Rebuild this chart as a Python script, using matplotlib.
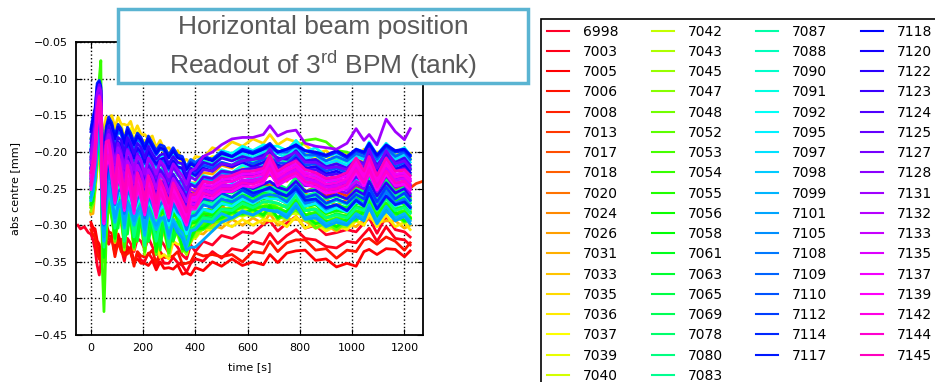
import numpy as np
import matplotlib.pyplot as plt
from matplotlib.patches import Rectangle

# time grid shared by all runs (s)
times_s = [0, 8, 16, 24, 32, 38, 44, 50,
           58, 68, 80, 92, 104, 116, 128, 140,
           152, 165, 178, 192, 206, 220, 235, 250,
           265, 280, 298, 315, 332, 350, 366, 382,
           400, 430, 465, 500, 540, 580, 620, 660,
           685, 715, 750, 785, 820, 860, 900, 940,
           980, 1015, 1045, 1065, 1095, 1130, 1165, 1200, 1222]

# run 6998 starts before t=0, run 7013 goes on after the others
lead_times_s = [-50, -40, -25, -10]
lead_6998_um = [-300, -305, -302, -310]
tail_times_s = [1245, 1270]
tail_7013_um = [-243, -240]

labels = ["6998", "7003", "7005", "7006", "7008", "7013", "7017", "7018", "7020",
          "7024", "7026", "7031", "7033", "7035", "7036", "7037", "7039", "7040",
          "7042", "7043", "7045", "7047", "7048", "7052", "7053", "7054", "7055",
          "7056", "7058", "7061", "7063", "7065", "7069", "7078", "7080", "7083",
          "7087", "7088", "7090", "7091", "7092", "7095", "7097", "7098", "7099",
          "7101", "7105", "7108", "7109", "7110", "7112", "7114", "7117", "7118",
          "7120", "7122", "7123", "7124", "7125", "7127", "7128", "7131", "7132",
          "7133", "7135", "7137", "7139", "7142", "7144", "7145"]

# abs centre in micrometres, one row per run (same order as labels)
centre_um = [
    [-312, -320, -333, -355, -368, -352, -338, -326, -318, -326, -315, -338, -320, -319, -344, -318,
     -325, -336, -318, -322, -333, -317, -329, -340, -319, -327, -338, -322, -330, -341, -346, -327,
     -336, -322, -327, -314, -318, -309, -311, -299, -294, -308, -297, -288, -304, -300, -313, -310,
     -306, -309, -297, -290, -311, -288, -306, -309, -316],
    [-300, -306, -309, -329, -337, -350, -334, -321, -302, -314, -316, -339, -317, -331, -349, -329,
     -338, -352, -338, -348, -349, -338, -346, -355, -341, -352, -352, -344, -351, -355, -364, -352,
     -346, -349, -336, -345, -332, -335, -322, -326, -311, -325, -314, -306, -318, -320, -329, -331,
     -322, -324, -312, -304, -322, -302, -318, -320, -327],
    [-296, -303, -305, -321, -326, -341, -328, -317, -298, -309, -311, -334, -312, -326, -337, -334,
     -330, -349, -346, -352, -352, -355, -348, -361, -350, -359, -358, -360, -354, -367, -365, -368,
     -358, -362, -350, -356, -346, -355, -350, -354, -340, -351, -338, -335, -334, -348, -346, -357,
     -352, -356, -336, -333, -340, -332, -333, -343, -335],
    [-306, -313, -317, -339, -346, -349, -328, -322, -306, -319, -318, -343, -322, -336, -342, -339,
     -334, -356, -336, -342, -343, -340, -334, -352, -336, -344, -344, -342, -336, -353, -352, -350,
     -338, -342, -340, -343, -340, -350, -336, -338, -322, -336, -324, -320, -320, -334, -332, -345,
     -334, -336, -320, -318, -326, -316, -322, -334, -324],
    [-282, -268, -249, -206, -178, -209, -296, -335, -279, -266, -268, -301, -281, -275, -310, -288,
     -279, -311, -292, -283, -321, -286, -296, -315, -297, -289, -326, -291, -303, -313, -330, -304,
     -302, -285, -289, -276, -279, -266, -272, -262, -262, -264, -270, -252, -272, -268, -280, -276,
     -280, -268, -272, -252, -274, -256, -272, -268, -278],
    [-250, -241, -224, -176, -159, -174, -276, -300, -262, -233, -254, -277, -260, -257, -292, -260,
     -266, -285, -271, -264, -296, -266, -276, -289, -279, -271, -300, -274, -285, -289, -306, -283,
     -282, -265, -271, -258, -262, -250, -256, -246, -244, -246, -252, -236, -254, -248, -260, -254,
     -260, -248, -252, -234, -256, -236, -252, -246, -249],
    [-227, -223, -192, -164, -134, -162, -246, -286, -226, -216, -218, -254, -224, -238, -252, -240,
     -232, -262, -236, -246, -256, -248, -242, -266, -242, -252, -260, -254, -248, -268, -270, -266,
     -248, -250, -236, -240, -228, -232, -222, -228, -210, -228, -218, -218, -220, -230, -226, -238,
     -228, -232, -220, -218, -224, -218, -220, -230, -224],
    [-273, -262, -244, -198, -182, -196, -310, -333, -290, -260, -280, -307, -285, -279, -323, -284,
     -291, -317, -297, -288, -329, -290, -303, -321, -303, -296, -333, -298, -309, -318, -335, -310,
     -310, -296, -299, -286, -290, -278, -284, -276, -276, -278, -284, -266, -288, -284, -296, -290,
     -294, -282, -286, -266, -290, -270, -286, -282, -292],
    [-243, -232, -214, -168, -152, -164, -266, -292, -250, -222, -240, -264, -246, -244, -274, -246,
     -254, -268, -256, -250, -276, -252, -262, -270, -262, -256, -280, -258, -268, -272, -292, -270,
     -270, -256, -258, -246, -250, -238, -244, -234, -232, -234, -240, -224, -242, -236, -248, -244,
     -250, -238, -242, -222, -246, -224, -244, -238, -248],
    [-261, -259, -226, -196, -164, -194, -281, -324, -264, -252, -254, -296, -260, -272, -296, -276,
     -266, -306, -272, -280, -302, -282, -276, -310, -276, -286, -304, -288, -282, -308, -308, -300,
     -284, -286, -272, -276, -262, -266, -256, -262, -246, -264, -254, -252, -256, -268, -264, -274,
     -264, -268, -256, -252, -258, -254, -256, -268, -262],
    [-213, -201, -186, -144, -130, -142, -240, -264, -218, -192, -210, -228, -216, -214, -242, -216,
     -224, -236, -228, -222, -246, -224, -234, -240, -236, -230, -250, -232, -242, -242, -262, -242,
     -242, -228, -230, -218, -222, -210, -216, -206, -206, -208, -214, -198, -214, -208, -220, -216,
     -222, -210, -214, -196, -218, -198, -214, -208, -218],
    [-285, -284, -252, -222, -192, -222, -314, -350, -292, -280, -284, -324, -288, -298, -322, -302,
     -292, -334, -298, -306, -328, -308, -302, -338, -302, -312, -330, -314, -308, -332, -330, -324,
     -310, -312, -300, -304, -292, -300, -290, -298, -284, -300, -292, -292, -294, -304, -300, -308,
     -298, -302, -292, -290, -296, -294, -294, -304, -300],
    [-225, -214, -198, -154, -140, -152, -250, -272, -228, -202, -220, -240, -226, -224, -252, -226,
     -234, -246, -238, -232, -256, -234, -244, -250, -244, -238, -260, -240, -250, -252, -272, -252,
     -252, -238, -240, -228, -232, -220, -226, -216, -216, -218, -224, -208, -226, -218, -232, -228,
     -234, -222, -226, -208, -230, -208, -226, -220, -230],
    [-181, -178, -156, -144, -124, -146, -168, -170, -152, -156, -150, -166, -152, -162, -162, -164,
     -158, -174, -164, -176, -176, -182, -178, -194, -184, -196, -194, -202, -198, -212, -210, -216,
     -206, -208, -194, -198, -186, -192, -182, -188, -176, -190, -182, -186, -190, -202, -198, -210,
     -202, -208, -196, -198, -200, -200, -198, -208, -202],
    [-271, -258, -243, -196, -182, -196, -305, -326, -285, -258, -276, -300, -280, -276, -314, -278,
     -286, -308, -292, -286, -322, -292, -310, -326, -344, -340, -346, -322, -326, -326, -340, -318,
     -318, -304, -308, -296, -302, -292, -300, -292, -294, -294, -302, -288, -304, -298, -308, -300,
     -306, -294, -300, -284, -302, -286, -302, -296, -306],
    [-198, -188, -174, -148, -140, -148, -190, -176, -166, -156, -164, -170, -166, -164, -178, -170,
     -168, -184, -172, -184, -184, -190, -186, -200, -190, -202, -200, -208, -204, -218, -218, -222,
     -214, -214, -206, -208, -202, -204, -198, -202, -192, -202, -198, -194, -202, -208, -206, -214,
     -208, -212, -204, -196, -208, -202, -204, -210, -208],
    [-256, -250, -222, -188, -160, -186, -280, -318, -262, -246, -254, -292, -260, -268, -292, -264,
     -270, -298, -276, -268, -306, -274, -286, -302, -288, -286, -314, -290, -302, -308, -322, -304,
     -302, -290, -292, -284, -286, -280, -284, -280, -278, -280, -286, -272, -288, -286, -294, -288,
     -294, -282, -286, -270, -288, -274, -286, -284, -292],
    [-275, -270, -242, -210, -181, -209, -303, -343, -286, -272, -276, -320, -282, -291, -315, -294,
     -288, -326, -292, -298, -320, -302, -298, -328, -298, -306, -322, -308, -304, -324, -326, -318,
     -304, -304, -290, -294, -282, -288, -282, -290, -276, -292, -284, -284, -286, -298, -292, -300,
     -290, -292, -282, -276, -286, -280, -282, -294, -288],
    [-270, -264, -236, -204, -172, -203, -300, -344, -284, -264, -272, -318, -278, -284, -326, -282,
     -288, -322, -292, -288, -334, -290, -298, -328, -298, -296, -336, -296, -306, -324, -336, -312,
     -308, -298, -296, -286, -284, -278, -280, -278, -276, -282, -284, -270, -288, -288, -298, -296,
     -296, -286, -286, -272, -288, -274, -284, -286, -292],
    [-262, -253, -233, -190, -170, -190, -298, -332, -280, -252, -273, -298, -284, -268, -308, -294,
     -276, -298, -314, -278, -298, -316, -286, -298, -326, -286, -304, -320, -294, -306, -328, -302,
     -300, -290, -288, -278, -276, -270, -272, -270, -266, -272, -274, -260, -278, -278, -288, -286,
     -286, -276, -276, -262, -278, -264, -276, -276, -282],
    [-281, -270, -250, -204, -188, -205, -316, -347, -297, -266, -288, -318, -292, -286, -334, -290,
     -296, -330, -302, -294, -340, -296, -308, -334, -308, -302, -342, -306, -314, -330, -340, -316,
     -316, -302, -304, -290, -292, -284, -288, -284, -284, -288, -292, -276, -294, -294, -304, -302,
     -302, -290, -292, -276, -294, -280, -292, -292, -298],
    [-257, -253, -222, -192, -160, -191, -288, -333, -271, -254, -260, -306, -264, -276, -308, -266,
     -276, -314, -282, -278, -314, -286, -282, -324, -282, -292, -316, -294, -288, -322, -320, -310,
     -298, -296, -286, -284, -274, -276, -270, -276, -264, -278, -272, -266, -276, -292, -288, -294,
     -284, -284, -274, -266, -280, -270, -274, -284, -280],
    [-251, -240, -222, -176, -160, -176, -288, -318, -270, -240, -260, -290, -262, -260, -302, -266,
     -266, -304, -276, -268, -314, -270, -284, -308, -282, -276, -316, -280, -288, -306, -320, -296,
     -296, -282, -284, -272, -270, -264, -266, -262, -260, -264, -268, -254, -272, -278, -284, -280,
     -282, -270, -272, -256, -272, -258, -270, -270, -276],
    [-276, -271, -238, -208, -176, -207, -304, -349, -287, -270, -276, -322, -282, -290, -322, -292,
     -284, -332, -298, -292, -330, -300, -296, -340, -298, -306, -332, -308, -302, -336, -332, -322,
     -308, -306, -296, -294, -284, -286, -280, -288, -276, -292, -284, -280, -288, -304, -296, -306,
     -294, -294, -284, -278, -292, -282, -286, -296, -292],
    [-241, -229, -212, -166, -150, -166, -278, -308, -260, -230, -250, -280, -254, -250, -296, -254,
     -262, -292, -266, -258, -302, -260, -272, -296, -272, -266, -304, -268, -278, -294, -308, -284,
     -274, -268, -252, -248, -232, -228, -216, -216, -200, -212, -204, -198, -184, -182, -186, -198,
     -200, -206, -200, -192, -208, -196, -204, -208, -210],
    [-263, -251, -218, -162, -100, -75, -360, -418, -322, -266, -290, -316, -286, -282, -330, -290,
     -286, -326, -296, -290, -336, -292, -304, -330, -302, -298, -338, -300, -310, -326, -334, -314,
     -306, -300, -290, -286, -278, -276, -272, -276, -272, -276, -282, -266, -286, -282, -296, -290,
     -294, -280, -284, -266, -286, -270, -284, -280, -290],
    [-269, -257, -238, -192, -176, -192, -302, -332, -285, -254, -276, -292, -294, -272, -316, -296,
     -282, -304, -322, -280, -304, -322, -294, -300, -334, -288, -310, -322, -302, -308, -336, -306,
     -306, -294, -294, -282, -282, -274, -278, -274, -274, -278, -282, -266, -286, -284, -296, -292,
     -294, -282, -284, -268, -284, -270, -284, -282, -290],
    [-255, -243, -226, -180, -164, -180, -292, -322, -274, -244, -266, -294, -268, -264, -312, -268,
     -274, -308, -280, -272, -318, -274, -286, -312, -286, -280, -320, -282, -292, -310, -324, -298,
     -296, -284, -286, -272, -272, -264, -268, -264, -262, -264, -270, -254, -274, -272, -284, -280,
     -282, -270, -272, -254, -274, -256, -272, -270, -278],
    [-272, -267, -238, -204, -175, -204, -302, -344, -284, -266, -272, -318, -280, -286, -322, -288,
     -284, -330, -290, -296, -324, -296, -296, -336, -296, -304, -330, -304, -300, -332, -334, -318,
     -306, -304, -294, -290, -282, -284, -278, -286, -274, -290, -280, -276, -286, -298, -294, -302,
     -292, -292, -280, -274, -290, -278, -282, -294, -290],
    [-246, -234, -216, -170, -154, -170, -284, -314, -266, -236, -258, -286, -260, -256, -304, -260,
     -268, -300, -272, -264, -310, -266, -278, -304, -278, -272, -312, -274, -284, -302, -316, -292,
     -290, -278, -280, -266, -266, -258, -262, -256, -254, -256, -262, -246, -266, -264, -276, -272,
     -276, -262, -266, -248, -268, -250, -266, -262, -270],
    [-263, -251, -232, -186, -170, -186, -296, -326, -278, -248, -270, -280, -304, -266, -290, -312,
     -276, -294, -320, -278, -302, -322, -286, -302, -328, -288, -306, -320, -294, -310, -332, -306,
     -302, -288, -290, -278, -278, -268, -274, -268, -268, -270, -276, -258, -280, -278, -290, -284,
     -288, -274, -278, -258, -278, -262, -278, -274, -282],
    [-236, -224, -206, -160, -144, -160, -274, -302, -256, -226, -248, -276, -250, -246, -294, -250,
     -258, -290, -262, -254, -300, -256, -268, -294, -268, -262, -302, -264, -274, -294, -308, -284,
     -286, -272, -274, -260, -262, -250, -256, -248, -248, -250, -256, -240, -260, -256, -270, -266,
     -270, -256, -260, -240, -262, -242, -260, -254, -264],
    [-249, -237, -218, -172, -156, -172, -286, -316, -268, -238, -260, -288, -262, -258, -306, -262,
     -270, -302, -274, -266, -312, -268, -280, -306, -280, -274, -314, -276, -286, -304, -318, -294,
     -292, -280, -282, -268, -270, -260, -266, -258, -258, -260, -266, -250, -270, -266, -280, -276,
     -280, -266, -270, -250, -270, -254, -270, -266, -274],
    [-231, -219, -200, -154, -138, -154, -268, -296, -250, -220, -242, -270, -244, -240, -288, -244,
     -252, -284, -256, -248, -294, -250, -262, -288, -262, -256, -296, -258, -268, -288, -302, -280,
     -282, -268, -270, -254, -256, -246, -252, -242, -242, -244, -250, -234, -254, -250, -264, -260,
     -264, -250, -254, -234, -256, -238, -254, -248, -258],
    [-266, -254, -236, -190, -174, -190, -300, -330, -282, -252, -274, -304, -278, -274, -322, -278,
     -284, -316, -290, -282, -328, -284, -296, -322, -296, -290, -330, -292, -302, -318, -332, -306,
     -304, -290, -292, -278, -280, -270, -276, -268, -268, -270, -276, -260, -280, -278, -290, -286,
     -290, -276, -280, -260, -280, -264, -280, -276, -284],
    [-239, -227, -208, -162, -146, -162, -276, -304, -258, -228, -250, -278, -252, -248, -296, -252,
     -260, -292, -264, -256, -302, -258, -270, -296, -270, -264, -304, -266, -276, -294, -308, -286,
     -286, -272, -274, -260, -262, -250, -256, -248, -248, -250, -256, -240, -260, -256, -270, -266,
     -270, -256, -260, -240, -262, -244, -260, -254, -264],
    [-206, -193, -180, -138, -122, -134, -232, -258, -210, -182, -202, -218, -208, -204, -232, -206,
     -214, -226, -218, -210, -236, -212, -224, -230, -226, -218, -240, -220, -232, -232, -250, -232,
     -232, -222, -226, -214, -218, -208, -214, -206, -208, -208, -214, -200, -216, -210, -222, -218,
     -224, -212, -216, -200, -220, -202, -216, -210, -220],
    [-241, -230, -214, -170, -154, -168, -270, -296, -252, -224, -242, -268, -250, -246, -280, -248,
     -256, -274, -260, -254, -286, -256, -266, -280, -268, -262, -290, -266, -276, -284, -302, -282,
     -280, -268, -272, -260, -264, -254, -260, -252, -254, -254, -260, -244, -264, -260, -272, -266,
     -272, -258, -264, -246, -268, -248, -264, -258, -268],
    [-196, -183, -170, -128, -114, -126, -224, -250, -200, -172, -192, -208, -198, -192, -224, -196,
     -204, -216, -208, -200, -226, -202, -214, -220, -214, -208, -230, -210, -222, -222, -240, -222,
     -222, -212, -216, -204, -208, -198, -204, -196, -198, -198, -204, -190, -206, -200, -212, -208,
     -214, -202, -206, -190, -210, -192, -206, -200, -210],
    [-216, -203, -190, -148, -132, -144, -244, -268, -220, -192, -212, -228, -218, -214, -242, -216,
     -224, -236, -228, -220, -246, -222, -234, -240, -236, -228, -250, -230, -242, -242, -260, -242,
     -244, -232, -236, -224, -228, -218, -224, -216, -218, -218, -224, -210, -226, -220, -232, -228,
     -234, -222, -226, -210, -230, -212, -226, -220, -230],
    [-191, -179, -166, -124, -110, -122, -220, -246, -194, -168, -186, -202, -192, -188, -218, -190,
     -198, -210, -202, -196, -220, -196, -208, -214, -208, -202, -224, -204, -216, -216, -234, -216,
     -216, -206, -210, -198, -202, -192, -198, -190, -192, -192, -198, -184, -200, -194, -206, -202,
     -208, -196, -200, -186, -204, -188, -200, -194, -204],
    [-251, -240, -224, -178, -162, -176, -280, -306, -262, -232, -254, -278, -260, -256, -290, -258,
     -266, -284, -270, -262, -296, -266, -276, -290, -278, -272, -300, -276, -286, -294, -312, -292,
     -290, -278, -282, -270, -274, -264, -270, -262, -264, -264, -270, -254, -274, -270, -282, -276,
     -282, -268, -274, -256, -278, -258, -274, -268, -278],
    [-201, -189, -176, -134, -118, -130, -228, -254, -204, -178, -196, -212, -202, -198, -228, -200,
     -208, -220, -212, -206, -230, -206, -218, -224, -218, -212, -234, -214, -226, -226, -244, -226,
     -226, -216, -220, -208, -212, -202, -208, -200, -202, -202, -208, -194, -210, -204, -216, -212,
     -218, -206, -210, -194, -214, -196, -210, -204, -214],
    [-226, -214, -200, -156, -140, -152, -254, -278, -232, -204, -224, -242, -230, -226, -256, -228,
     -236, -250, -240, -234, -260, -236, -248, -254, -248, -242, -266, -246, -258, -258, -276, -258,
     -258, -248, -250, -238, -242, -232, -238, -230, -230, -232, -238, -224, -240, -234, -246, -242,
     -248, -236, -240, -224, -244, -226, -240, -234, -244],
    [-266, -254, -238, -192, -176, -190, -296, -322, -276, -248, -270, -296, -276, -272, -304, -274,
     -282, -300, -286, -280, -314, -282, -292, -306, -294, -288, -318, -292, -304, -310, -328, -308,
     -306, -294, -296, -284, -290, -280, -286, -278, -280, -280, -286, -270, -290, -286, -298, -292,
     -298, -284, -290, -272, -294, -274, -290, -284, -294],
    [-261, -248, -232, -186, -170, -184, -290, -316, -272, -242, -264, -290, -272, -266, -300, -268,
     -276, -294, -280, -272, -306, -276, -290, -300, -290, -290, -314, -298, -310, -318, -334, -330,
     -330, -320, -308, -296, -290, -282, -286, -278, -280, -282, -290, -274, -292, -290, -302, -296,
     -300, -288, -294, -276, -298, -280, -294, -288, -298],
    [-211, -196, -182, -140, -124, -136, -236, -262, -208, -186, -204, -222, -210, -206, -236, -210,
     -218, -230, -222, -214, -240, -216, -228, -236, -230, -224, -246, -232, -240, -240, -256, -244,
     -246, -238, -238, -228, -232, -224, -232, -224, -222, -226, -232, -218, -236, -232, -244, -238,
     -244, -232, -238, -220, -240, -222, -236, -230, -240],
    [-246, -234, -218, -172, -156, -170, -274, -300, -254, -226, -246, -272, -254, -250, -284, -252,
     -260, -278, -264, -258, -290, -260, -272, -284, -272, -266, -294, -270, -282, -288, -306, -288,
     -286, -272, -276, -264, -268, -260, -268, -260, -258, -260, -268, -252, -270, -266, -278, -272,
     -280, -264, -272, -252, -276, -254, -270, -264, -274],
    [-182, -166, -154, -118, -108, -116, -208, -236, -176, -158, -168, -188, -172, -176, -194, -174,
     -182, -194, -182, -188, -200, -186, -194, -204, -196, -198, -208, -198, -206, -208, -220, -210,
     -214, -206, -210, -200, -206, -198, -202, -196, -194, -200, -200, -190, -204, -204, -212, -206,
     -212, -202, -206, -192, -210, -194, -206, -200, -210],
    [-198, -182, -168, -126, -114, -124, -222, -248, -190, -172, -186, -206, -190, -192, -212, -190,
     -198, -212, -198, -202, -216, -200, -210, -218, -212, -212, -224, -212, -222, -222, -236, -226,
     -228, -218, -222, -214, -218, -210, -216, -210, -208, -214, -216, -204, -218, -216, -226, -222,
     -228, -216, -222, -204, -224, -206, -220, -214, -224],
    [-236, -222, -208, -164, -148, -160, -262, -288, -238, -214, -230, -258, -238, -236, -266, -238,
     -246, -262, -248, -244, -272, -246, -256, -268, -258, -252, -278, -256, -268, -272, -290, -274,
     -274, -264, -266, -256, -262, -252, -260, -252, -250, -254, -260, -246, -262, -258, -270, -264,
     -270, -258, -264, -248, -268, -248, -264, -256, -266],
    [-168, -152, -140, -106, -102, -110, -200, -228, -166, -152, -160, -178, -162, -168, -184, -166,
     -174, -186, -174, -180, -192, -178, -188, -198, -190, -192, -204, -194, -204, -206, -222, -214,
     -218, -206, -210, -200, -206, -196, -200, -194, -188, -200, -196, -192, -198, -202, -206, -200,
     -208, -198, -202, -190, -206, -192, -200, -198, -206],
    [-222, -208, -194, -150, -134, -146, -248, -274, -224, -200, -218, -242, -224, -222, -252, -224,
     -232, -246, -236, -230, -256, -234, -246, -258, -248, -244, -266, -250, -260, -266, -282, -270,
     -268, -258, -260, -250, -254, -248, -256, -252, -248, -256, -260, -250, -266, -264, -276, -272,
     -280, -266, -274, -256, -278, -260, -272, -268, -276],
    [-172, -156, -144, -110, -104, -112, -204, -232, -170, -156, -164, -182, -166, -172, -188, -170,
     -178, -190, -178, -184, -196, -182, -192, -202, -194, -196, -208, -198, -208, -210, -224, -216,
     -220, -208, -212, -202, -206, -198, -202, -196, -190, -200, -196, -190, -198, -200, -204, -198,
     -206, -196, -200, -188, -204, -190, -198, -196, -204],
    [-196, -180, -166, -124, -112, -122, -220, -246, -186, -170, -182, -202, -186, -190, -208, -186,
     -194, -208, -194, -200, -214, -198, -208, -216, -210, -208, -222, -212, -220, -222, -238, -228,
     -232, -222, -226, -216, -220, -214, -220, -214, -210, -218, -220, -208, -222, -220, -230, -226,
     -232, -220, -226, -208, -228, -210, -224, -218, -228],
    [-221, -206, -192, -148, -132, -144, -246, -272, -220, -198, -214, -238, -220, -218, -246, -220,
     -228, -244, -230, -228, -252, -230, -242, -252, -242, -240, -260, -246, -256, -260, -276, -264,
     -262, -252, -254, -246, -250, -244, -250, -244, -240, -248, -252, -240, -254, -252, -262, -258,
     -264, -252, -258, -240, -260, -242, -256, -250, -260],
    [-187, -171, -158, -118, -108, -116, -212, -240, -180, -164, -176, -196, -180, -184, -202, -180,
     -188, -202, -188, -194, -208, -192, -202, -210, -204, -202, -216, -206, -214, -216, -232, -222,
     -226, -214, -218, -208, -212, -206, -210, -204, -200, -208, -210, -198, -212, -210, -220, -216,
     -222, -210, -216, -200, -218, -202, -214, -208, -218],
    [-209, -192, -176, -132, -116, -126, -232, -260, -196, -180, -200, -226, -198, -210, -232, -206,
     -214, -236, -212, -222, -242, -218, -228, -244, -224, -232, -250, -230, -240, -250, -262, -244,
     -248, -234, -236, -226, -228, -224, -222, -220, -206, -222, -216, -210, -224, -224, -232, -230,
     -234, -222, -228, -206, -232, -208, -226, -222, -232],
    [-223, -206, -190, -146, -130, -140, -246, -274, -210, -194, -214, -242, -212, -224, -248, -222,
     -228, -252, -226, -236, -256, -232, -242, -258, -238, -246, -262, -242, -252, -262, -274, -256,
     -260, -246, -248, -238, -240, -234, -232, -230, -218, -234, -228, -222, -236, -236, -246, -242,
     -246, -234, -240, -218, -244, -222, -238, -234, -246],
    [-199, -182, -166, -122, -108, -116, -222, -250, -186, -170, -190, -216, -188, -200, -222, -196,
     -204, -226, -202, -212, -232, -208, -218, -234, -214, -222, -240, -220, -230, -240, -252, -234,
     -238, -224, -226, -216, -218, -212, -210, -208, -196, -212, -206, -200, -214, -214, -222, -220,
     -224, -210, -218, -196, -222, -198, -216, -212, -222],
    [-233, -216, -200, -156, -140, -150, -256, -284, -220, -204, -224, -252, -222, -234, -258, -232,
     -238, -262, -236, -246, -266, -242, -252, -268, -248, -256, -272, -252, -262, -272, -284, -266,
     -270, -256, -258, -248, -250, -244, -242, -240, -228, -244, -238, -232, -246, -246, -256, -252,
     -256, -244, -250, -228, -254, -232, -248, -244, -256],
    [-206, -186, -164, -120, -112, -118, -226, -252, -192, -176, -194, -216, -194, -204, -222, -198,
     -206, -224, -206, -212, -230, -208, -216, -230, -212, -218, -234, -216, -224, -232, -244, -226,
     -222, -206, -200, -190, -182, -180, -180, -176, -164, -178, -172, -170, -188, -192, -194, -196,
     -188, -168, -184, -176, -190, -155, -172, -183, -168],
    [-215, -198, -182, -138, -122, -132, -238, -266, -202, -186, -206, -232, -204, -216, -238, -212,
     -220, -242, -218, -228, -248, -224, -234, -250, -230, -238, -256, -236, -246, -256, -268, -250,
     -254, -240, -242, -232, -234, -228, -226, -224, -212, -228, -222, -216, -230, -230, -238, -236,
     -240, -228, -234, -212, -238, -214, -232, -228, -238],
    [-229, -212, -196, -152, -136, -146, -252, -280, -216, -200, -220, -248, -218, -230, -254, -228,
     -234, -258, -232, -242, -262, -238, -248, -264, -244, -252, -268, -248, -258, -268, -280, -262,
     -266, -252, -254, -244, -246, -240, -238, -236, -224, -240, -234, -228, -242, -242, -252, -248,
     -252, -240, -246, -224, -250, -228, -244, -240, -250],
    [-241, -224, -204, -152, -136, -146, -256, -292, -206, -198, -226, -262, -220, -240, -272, -232,
     -246, -276, -240, -256, -278, -246, -258, -282, -250, -262, -282, -254, -266, -280, -294, -270,
     -272, -252, -256, -246, -246, -238, -240, -234, -218, -238, -230, -224, -236, -240, -248, -246,
     -240, -220, -238, -220, -244, -222, -238, -236, -244],
    [-232, -216, -196, -146, -128, -138, -250, -284, -196, -188, -216, -254, -208, -232, -262, -222,
     -238, -268, -232, -246, -270, -236, -250, -274, -242, -254, -274, -246, -258, -272, -286, -262,
     -262, -244, -246, -238, -236, -230, -230, -226, -208, -230, -222, -216, -228, -232, -240, -238,
     -232, -212, -230, -210, -236, -212, -230, -228, -236],
    [-251, -234, -214, -162, -146, -154, -264, -298, -218, -208, -236, -270, -230, -250, -280, -242,
     -256, -284, -250, -264, -286, -256, -266, -290, -258, -270, -290, -262, -274, -288, -300, -278,
     -278, -260, -264, -254, -254, -246, -248, -242, -226, -246, -238, -232, -244, -248, -256, -254,
     -248, -228, -246, -228, -252, -230, -246, -244, -252],
    [-237, -220, -200, -150, -132, -142, -254, -288, -190, -194, -222, -258, -214, -236, -266, -226,
     -242, -272, -236, -250, -274, -240, -254, -278, -246, -258, -278, -250, -262, -276, -290, -266,
     -266, -248, -250, -242, -240, -234, -234, -230, -212, -234, -226, -220, -232, -236, -244, -242,
     -236, -216, -234, -214, -240, -216, -234, -232, -240],
    [-245, -229, -208, -158, -140, -150, -260, -294, -212, -204, -232, -266, -226, -246, -276, -236,
     -250, -280, -244, -260, -282, -250, -262, -286, -254, -266, -286, -258, -270, -284, -296, -274,
     -276, -256, -260, -250, -250, -242, -244, -238, -222, -242, -234, -228, -240, -244, -252, -250,
     -244, -224, -242, -224, -248, -226, -242, -240, -248],
    [-228, -212, -192, -142, -124, -134, -246, -280, -186, -184, -212, -250, -204, -228, -258, -218,
     -234, -264, -228, -242, -266, -232, -246, -270, -238, -250, -270, -242, -254, -268, -282, -258,
     -258, -240, -242, -234, -232, -226, -226, -222, -204, -226, -218, -212, -224, -228, -236, -234,
     -228, -208, -226, -206, -232, -208, -226, -224, -232],
]

colors = plt.cm.gist_rainbow(np.linspace(0, 1, len(labels)))

fig = plt.figure(figsize=(9.35, 3.82), dpi=100)
ax = fig.add_axes([0.0813, 0.123, 0.3708, 0.7662])

handles = []
for i, (lab, row) in enumerate(zip(labels, centre_um)):
    t = list(times_s)
    y = list(row)
    if lab == "6998":
        t = lead_times_s + t
        y = lead_6998_um + y
    if lab == "7013":
        t = t + tail_times_s
        y = y + tail_7013_um
    line, = ax.plot(t, np.array(y) / 1000.0, color=colors[i], lw=2.0, label=lab)
    handles.append(line)

ax.set_xlim(-57, 1270)
ax.set_ylim(-0.45, -0.05)
ax.set_xticks(np.arange(0, 1201, 200))
ax.set_yticks(np.arange(-0.45, -0.049, 0.05))
ax.grid(True, linestyle=':', color='black', lw=1.0)
ax.tick_params(direction='in', top=True, right=True, length=4, labelsize=8, pad=6)
for s in ax.spines.values():
    s.set_linewidth(1.3)
ax.set_xlabel("time [s]", fontsize=8, labelpad=6)
ax.set_ylabel("abs centre [mm]", fontsize=8, labelpad=10)

leg = fig.legend(handles=handles, loc='upper left', bbox_to_anchor=(541 / 935, 1 - 19 / 382),
                 ncol=4, fontsize=10, frameon=True, fancybox=False, framealpha=1,
                 edgecolor='black', borderaxespad=0, handlelength=1.6, handletextpad=1.0,
                 columnspacing=2.4, labelspacing=0.45)
leg.get_frame().set_linewidth(1.2)
for h in leg.get_lines():
    h.set_linewidth(1.5)

# title box drawn over the top of the axes
fig.add_artist(Rectangle((118 / 935, 1 - 83 / 382), 410 / 935, 74 / 382,
                         transform=fig.transFigure, facecolor='white',
                         edgecolor='#5ab4d2', lw=2.5, zorder=3))
plt.rcParams['mathtext.fontset'] = 'custom'
plt.rcParams['mathtext.rm'] = 'Liberation Sans'
fig.text(323 / 935, 1 - 27 / 382, "Horizontal beam position", ha='center', va='center',
         fontsize=19, color='#595959', family='Liberation Sans', zorder=4)
fig.text(323 / 935, 1 - 65 / 382, r"Readout of 3$^{\mathrm{rd}}$ BPM (tank)", ha='center',
         va='center', fontsize=19, color='#595959', family='Liberation Sans', zorder=4)

fig.savefig("out.png", dpi=100)
